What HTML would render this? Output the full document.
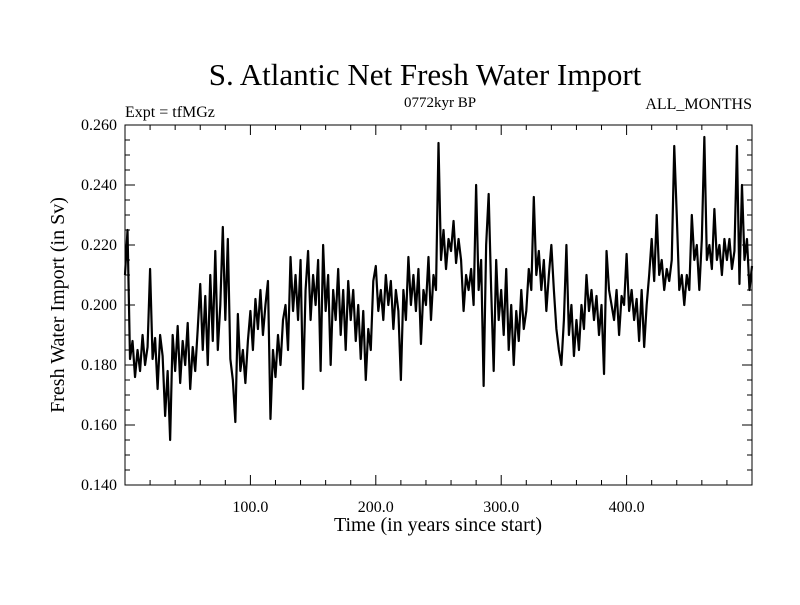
<!DOCTYPE html>
<html><head><meta charset="utf-8"><style>
body{margin:0;background:#fff;}
svg text{font-family:"Liberation Serif",serif;fill:#000;}
</style></head><body>
<svg id="chart" width="800" height="600" viewBox="0 0 800 600" xmlns="http://www.w3.org/2000/svg">
<rect width="800" height="600" fill="#fff"/>
<text x="425" y="85" font-size="31" text-anchor="middle">S. Atlantic Net Fresh Water Import</text>
<text x="440" y="107" font-size="15" text-anchor="middle">0772kyr BP</text>
<text x="125" y="117" font-size="16">Expt = tfMGz</text>
<text x="752" y="109" font-size="16" text-anchor="end">ALL_MONTHS</text>
<text transform="translate(64,305) rotate(-90)" font-size="20" text-anchor="middle">Fresh Water Import (in Sv)</text>
<text x="438" y="531" font-size="20" text-anchor="middle">Time (in years since start)</text>
<g id="axes"></g>
<path id="series" fill="none" stroke="#000" stroke-width="2.2" stroke-linejoin="round"/>
<rect x="125" y="125" width="627" height="360" fill="none" stroke="#000" stroke-width="1"/>
</svg>
<script>
const years=[];for(let i=0;i<=250;i++)years.push(i*2);
const values=[
0.210,0.225,0.182,0.188,0.176,0.185,0.178,0.190,0.180,0.186,
0.212,0.182,0.189,0.172,0.190,0.183,0.163,0.178,0.155,0.190,
0.178,0.193,0.174,0.188,0.180,0.194,0.172,0.186,0.178,0.192,
0.207,0.185,0.203,0.180,0.210,0.188,0.218,0.185,0.200,0.226,
0.195,0.222,0.182,0.175,0.161,0.197,0.178,0.185,0.174,0.188,
0.198,0.185,0.202,0.192,0.205,0.190,0.200,0.208,0.162,0.185,
0.176,0.190,0.180,0.195,0.200,0.185,0.216,0.198,0.210,0.195,
0.215,0.172,0.205,0.218,0.195,0.210,0.200,0.215,0.178,0.220,
0.198,0.210,0.180,0.205,0.195,0.212,0.190,0.205,0.185,0.208,
0.195,0.205,0.188,0.200,0.182,0.198,0.175,0.192,0.185,0.208,
0.213,0.198,0.205,0.195,0.210,0.200,0.208,0.192,0.205,0.198,
0.175,0.205,0.195,0.216,0.200,0.210,0.198,0.212,0.187,0.205,
0.200,0.216,0.195,0.210,0.205,0.254,0.215,0.225,0.212,0.222,
0.218,0.228,0.214,0.222,0.215,0.198,0.210,0.205,0.212,0.200,
0.240,0.205,0.215,0.173,0.220,0.237,0.205,0.178,0.215,0.195,
0.205,0.190,0.212,0.185,0.200,0.180,0.198,0.188,0.205,0.192,
0.198,0.212,0.205,0.236,0.210,0.218,0.205,0.215,0.198,0.210,
0.220,0.205,0.192,0.185,0.180,0.195,0.220,0.190,0.200,0.183,
0.195,0.185,0.200,0.192,0.210,0.198,0.205,0.195,0.203,0.190,
0.200,0.177,0.218,0.205,0.200,0.195,0.205,0.190,0.203,0.200,
0.217,0.198,0.205,0.195,0.202,0.188,0.205,0.186,0.200,0.210,
0.222,0.208,0.230,0.210,0.215,0.205,0.212,0.208,0.215,0.253,
0.230,0.205,0.210,0.200,0.210,0.205,0.230,0.215,0.220,0.205,
0.222,0.256,0.215,0.220,0.212,0.232,0.215,0.220,0.210,0.222,
0.215,0.222,0.212,0.218,0.253,0.207,0.240,0.215,0.222,0.205,
0.213];
const xTicks=[100,200,300,400];
const xTickLabels=["100.0","200.0","300.0","400.0"];
const yTicks=[0.14,0.16,0.18,0.20,0.22,0.24,0.26];
const yTickLabels=["0.140","0.160","0.180","0.200","0.220","0.240","0.260"];
const L=125,R=752,T=125,B=485,X0=0,X1=500,Y0=0.14,Y1=0.26;
const sx=v=>L+(v-X0)/(X1-X0)*(R-L);
const sy=v=>B-(v-Y0)/(Y1-Y0)*(B-T);
const NS="http://www.w3.org/2000/svg";
const ax=document.getElementById('axes');
function line(x1,y1,x2,y2,name){const l=document.createElementNS(NS,'line');
l.setAttribute('x1',x1);l.setAttribute('y1',y1);l.setAttribute('x2',x2);l.setAttribute('y2',y2);
l.setAttribute('stroke','#000');l.setAttribute('stroke-width','1');


ax.appendChild(l);}
function txt(x,y,s,anchor,name){const t=document.createElementNS(NS,'text');
t.setAttribute('x',x);t.setAttribute('y',y);t.setAttribute('font-size','16');t.setAttribute('text-anchor',anchor);t.textContent=s;


ax.appendChild(t);}
for(let v=20;v<500;v+=20){const x=sx(v);const major=v%100===0;const len=major?10:5;
line(x,B,x,B-len,'x-tick');line(x,T,x,T+len,'x-tick-top');}
xTicks.forEach((v,i)=>txt(sx(v),B+27,xTickLabels[i],'middle','x-tick-label'));
for(let k=0;k<=24;k++){const v=Y0+k*0.005;const y=sy(v);const major=k%4===0;const len=major?10:5;
line(L,y,L+len,y,'y-tick');line(R,y,R-len,y,'y-tick-right');}
yTicks.forEach((v,i)=>txt(L-8,sy(v)+5,yTickLabels[i],'end','y-tick-label'));
let d='';values.forEach((v,i)=>{d+=(i?'L':'M')+sx(years[i]).toFixed(2)+','+sy(v).toFixed(2);});
document.getElementById('series').setAttribute('d',d);
</script>
</body></html>
